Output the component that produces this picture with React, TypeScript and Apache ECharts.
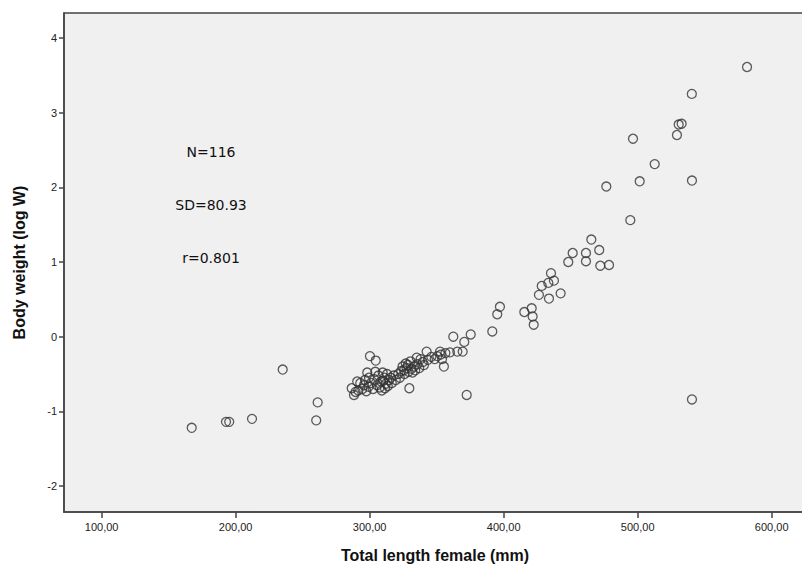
import React, { useEffect, useRef } from "react";
import * as echarts from "echarts";

// Total length female (mm)
const totalLength: number[] = [
  167.2, 192.8, 195.2, 212.2, 235.1, 261.2, 260.1,
  581.6, 540.4, 530.6, 532.8, 529.3, 496.5, 512.7, 501.5, 540.5, 476.6, 494.5, 465.4,
  471.3, 451.5, 461.4, 448.2, 461.4, 472.1, 478.6, 435.3, 437.5, 433.3, 428.4, 426.3,
  433.8, 442.5, 397.2, 395.2, 415.4, 420.9, 421.6, 422.4, 391.5,
  375.4, 362.4, 370.6, 369.4, 372.4, 540.5,
  286.6, 288.3, 290.7, 300.2, 304.5, 298.2, 304.2, 295.7, 299.2, 310.1,
  311.4, 309.7, 315.7, 321.3, 326.9, 325.6, 329.6, 331.3, 335.1, 339.6,
  342.5, 353.0, 355.4, 359.9, 365.4, 352.5,
  289.5, 291.5, 293.0, 294.5, 296.5, 297.5, 299.5, 301.0, 302.5, 303.5,
  305.5, 306.5, 307.5, 308.5, 309.0, 311.0, 312.0, 313.0, 313.5, 314.5,
  316.5, 318.0, 319.5, 322.5, 323.5, 324.5, 326.0, 327.5, 328.5, 329.0,
  330.5, 332.0, 333.0, 334.0, 335.5, 337.0, 338.0, 340.5, 343.5, 346.0,
  348.5, 350.5, 354.0, 356.5,
];

// Body weight (log W)
const logWeight: number[] = [
  -1.22, -1.14, -1.14, -1.1, -0.44, -0.88, -1.12,
  3.61, 3.25, 2.84, 2.85, 2.7, 2.65, 2.31, 2.08, 2.09, 2.01, 1.56, 1.3,
  1.16, 1.12, 1.12, 1.0, 1.01, 0.95, 0.96, 0.85, 0.75, 0.72, 0.68, 0.56,
  0.51, 0.58, 0.4, 0.3, 0.33, 0.38, 0.27, 0.16, 0.07,
  0.03, 0.0, -0.07, -0.2, -0.78, -0.84,
  -0.69, -0.78, -0.6, -0.26, -0.32, -0.48, -0.47, -0.65, -0.67, -0.59,
  -0.69, -0.48, -0.55, -0.5, -0.36, -0.45, -0.69, -0.43, -0.28, -0.34,
  -0.2, -0.24, -0.4, -0.21, -0.2, -0.2,
  -0.74, -0.72, -0.62, -0.7, -0.58, -0.73, -0.55, -0.62, -0.7, -0.57,
  -0.65, -0.52, -0.68, -0.6, -0.72, -0.55, -0.63, -0.5, -0.66, -0.58,
  -0.62, -0.52, -0.58, -0.55, -0.46, -0.4, -0.5, -0.42, -0.38, -0.47,
  -0.33, -0.48, -0.4, -0.45, -0.37, -0.42, -0.3, -0.38, -0.31, -0.27,
  -0.3, -0.26, -0.3, -0.22,
];

const annotations: string[] = ["N=116", "SD=80.93", "r=0.801"];
const xAxisTitle = "Total length female (mm)";
const yAxisTitle = "Body weight (log W)";

export default function App() {
  const ref = useRef<HTMLDivElement>(null);

  useEffect(() => {
    if (!ref.current) return;
    const chart = echarts.init(ref.current, null, { renderer: "svg" });
    const data = totalLength.map((x, i) => [x, logWeight[i]]);
    chart.setOption({
      animation: false,
      backgroundColor: "#ffffff",
      grid: {
        left: 64,
        top: 13,
        right: -4,
        bottom: 59,
        show: true,
        backgroundColor: "#f0f0f0",
        borderColor: "#444",
        borderWidth: 1.5,
        outerBoundsMode: "none",
      },
      xAxis: {
        type: "value",
        min: 71.9,
        max: 625.6,
        splitNumber: 5,
        name: xAxisTitle,
        nameLocation: "middle",
        nameGap: 35,
        nameTextStyle: {
          fontFamily: "Liberation Sans, Arial, sans-serif",
          fontWeight: "bold",
          fontSize: 16,
          color: "#111",
        },
        axisLine: { show: true, onZero: false, lineStyle: { color: "#444", width: 1.5 } },
        axisTick: { show: true, inside: false, length: 6, lineStyle: { color: "#444", width: 1.5 } },
        splitLine: { show: false },
        axisLabel: {
          showMinLabel: false,
          showMaxLabel: false,
          margin: 9,
          fontFamily: "Liberation Sans, Arial, sans-serif",
          fontSize: 11,
          color: "#222",
          formatter: (v: number) => v.toFixed(2).replace(".", ","),
        },
      },
      yAxis: {
        type: "value",
        min: -2.347,
        max: 4.333,
        splitNumber: 7,
        name: yAxisTitle,
        nameLocation: "middle",
        nameGap: 37,
        nameTextStyle: {
          fontFamily: "Liberation Sans, Arial, sans-serif",
          fontWeight: "bold",
          fontSize: 16,
          color: "#111",
        },
        axisLine: { show: true, onZero: false, lineStyle: { color: "#444", width: 1.5 } },
        axisTick: { show: true, inside: false, length: 5, lineStyle: { color: "#444", width: 1.5 } },
        splitLine: { show: false },
        axisLabel: {
          showMinLabel: false,
          showMaxLabel: false,
          margin: 7,
          fontFamily: "Liberation Sans, Arial, sans-serif",
          fontSize: 11,
          color: "#222",
          formatter: (v: number) => String(Math.round(v)),
        },
      },
      graphic: annotations.map((t, i) => ({
        type: "text",
        x: 211,
        y: 152 + i * 53,
        style: {
          text: t,
          fontFamily: "DejaVu Sans, Verdana, sans-serif",
          fontSize: 14,
          fill: "#111",
          textAlign: "center",
          textVerticalAlign: "middle",
        },
      })),
      series: [
        {
          type: "scatter",
          data,
          symbol: "circle",
          symbolSize: 9,
          itemStyle: {
            color: "rgba(0,0,0,0)",
            borderColor: "#333",
            borderWidth: 1.3,
          },
          emphasis: { disabled: true },
        },
      ],
    });
    return () => chart.dispose();
  }, []);

  return (
    <div
      ref={ref}
      style={{ position: "fixed", left: 0, top: 0, width: 802, height: 571 }}
    />
  );
}
